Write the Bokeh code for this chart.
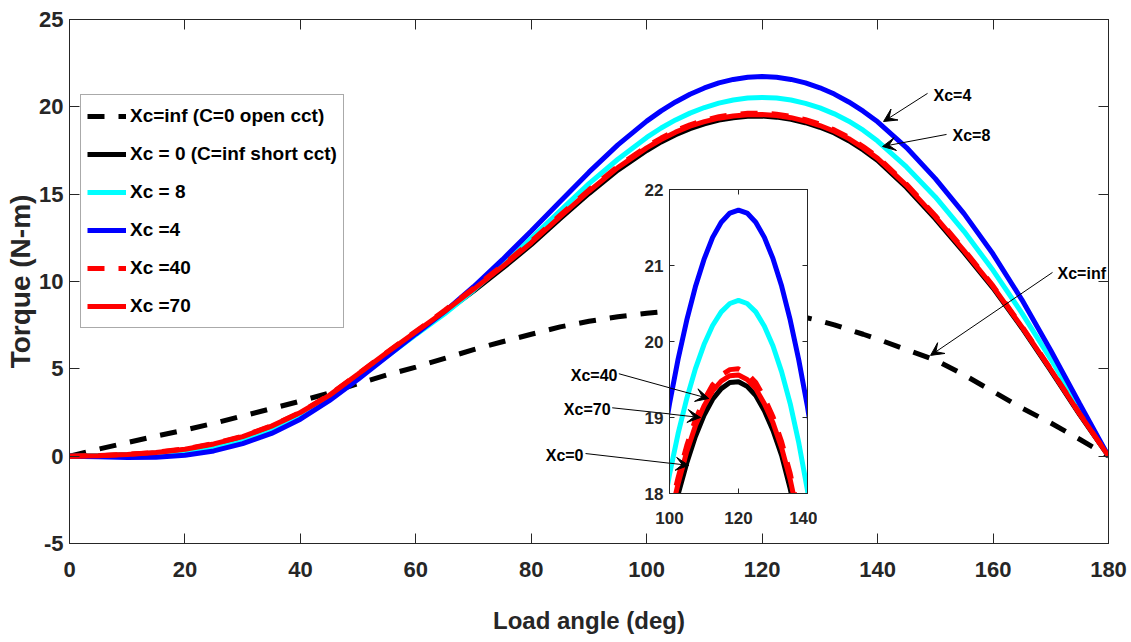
from bokeh.plotting import figure
from bokeh.models import (Range1d, LinearAxis, FixedTicker, Legend, LegendItem,
                          Arrow, VeeHead, Label, ColumnDataSource)
from bokeh.embed import file_html
from bokeh.resources import INLINE

# ---------------- data ----------------
angle = [0, 5, 10, 15, 20, 25, 30, 35, 40, 45, 50, 55, 60, 65, 70, 75, 80, 85, 90, 95,
         100, 102.5, 105, 107.5, 110, 112.5, 115, 117.5, 120, 122.5, 125, 127.5, 130,
         132.5, 135, 137.5, 140, 145, 150, 155, 160, 165, 170, 175, 180]

xc_inf = [0, 0.4, 0.78, 1.15, 1.5, 1.88, 2.3, 2.72, 3.15, 3.62, 4.15, 4.65, 5.1, 5.6, 6.1,
          6.55, 6.98, 7.4, 7.72, 7.98, 8.18, 8.26, 8.33, 8.37, 8.4, 8.4, 8.38, 8.34, 8.28,
          8.2, 8.1, 7.94, 7.75, 7.52, 7.25, 6.98, 6.7, 6.1, 5.5, 4.65, 3.7, 2.75, 1.9, 0.97, 0]

xc_0 = [0, 0.02, 0.08, 0.18, 0.36, 0.65, 1.06, 1.66, 2.44, 3.42, 4.62, 5.86, 7.05, 8.22, 9.46,
        10.75, 12.11, 13.6, 15.04, 16.38, 17.5, 17.99, 18.4, 18.75, 19.03, 19.24, 19.38,
        19.46, 19.47, 19.41, 19.29, 19.09, 18.83, 18.5, 18.06, 17.53, 16.93, 15.38, 13.59,
        11.65, 9.62, 7.34, 4.9, 2.38, 0]

xc_8 = [0, -0.01, 0.0, 0.08, 0.25, 0.54, 0.96, 1.56, 2.36, 3.35, 4.5, 5.72, 6.95, 8.15, 9.5,
        10.94, 12.47, 14.05, 15.6, 17.0, 18.25, 18.79, 19.25, 19.64, 19.96, 20.21, 20.39, 20.5,
        20.54, 20.5, 20.39, 20.2, 19.94, 19.6, 19.18, 18.66, 18.04, 16.56, 14.84, 12.86, 10.64,
        8.19, 5.56, 2.8, 0]

xc_4 = [0, -0.03, -0.07, -0.06, 0.05, 0.3, 0.72, 1.3, 2.12, 3.18, 4.4, 5.7, 7.0, 8.28, 9.7,
        11.25, 12.89, 14.58, 16.26, 17.82, 19.18, 19.77, 20.28, 20.72, 21.08, 21.37, 21.57,
        21.69, 21.73, 21.69, 21.57, 21.37, 21.09, 20.73, 20.28, 19.75, 19.14, 17.67, 15.89,
        13.87, 11.57, 8.95, 6.05, 3.0, 0]

xc_40 = [0, 0.03, 0.1, 0.22, 0.42, 0.72, 1.14, 1.74, 2.52, 3.5, 4.72, 5.95, 7.15, 8.35, 9.61,
         10.92, 12.3, 13.8, 15.25, 16.6, 17.73, 18.21, 18.63, 18.97, 19.23, 19.43, 19.56,
         19.63, 19.64, 19.58, 19.46, 19.26, 19.01, 18.68, 18.26, 17.73, 17.13, 15.57, 13.77,
         11.81, 9.75, 7.44, 4.98, 2.44, 0]

xc_70 = [0, 0.03, 0.1, 0.21, 0.4, 0.7, 1.12, 1.72, 2.5, 3.48, 4.7, 5.93, 7.12, 8.3, 9.55,
         10.85, 12.22, 13.72, 15.17, 16.52, 17.65, 18.13, 18.55, 18.89, 19.15, 19.35, 19.48,
         19.55, 19.56, 19.5, 19.38, 19.18, 18.93, 18.6, 18.18, 17.65, 17.05, 15.5, 13.7,
         11.75, 9.7, 7.4, 4.95, 2.42, 0]

labels = ["Xc=inf (C=0 open cct)", "Xc = 0 (C=inf short cct)", "Xc = 8", "Xc =4",
          "Xc =40", "Xc =70"]
x_ticks = [0, 20, 40, 60, 80, 100, 120, 140, 160, 180]
y_ticks = [-5, 0, 5, 10, 15, 20, 25]
inset_x_ticks = [100, 120, 140]
inset_y_ticks = [18, 19, 20, 21, 22]

# ---------------- styles ----------------
FONT = "Liberation Sans"
TXT = "#262626"
LW = 5
DASH = "17 14"

src = ColumnDataSource(dict(angle=angle, xc_inf=xc_inf, xc_0=xc_0, xc_8=xc_8,
                            xc_4=xc_4, xc_40=xc_40, xc_70=xc_70))
series = [("xc_inf", "black", DASH), ("xc_0", "black", "solid"),
          ("xc_8", "#00FFFF", "solid"), ("xc_4", "#0000FF", "solid"),
          ("xc_40", "#FF0000", DASH), ("xc_70", "#FF0000", "solid")]


def style_axis(ax, size, tick_in, show_labels=True, standoff=7):
    ax.major_tick_in = tick_in
    ax.major_tick_out = 0
    ax.minor_tick_line_color = None
    ax.axis_line_color = TXT
    ax.major_tick_line_color = TXT
    if show_labels:
        ax.major_label_text_font = FONT
        ax.major_label_text_font_style = "bold"
        ax.major_label_text_font_size = size
        ax.major_label_text_color = TXT
        ax.major_label_standoff = standoff
    else:
        ax.major_label_text_color = None
        ax.major_label_text_font_size = "1px"
        ax.major_label_standoff = 0


# ---------------- main figure ----------------
p = figure(width=1131, height=642, x_range=Range1d(0, 180), y_range=Range1d(-5, 25),
           output_backend="svg", toolbar_location=None,
           min_border_left=69, min_border_right=23, min_border_top=19, min_border_bottom=99,
           styles={"position": "absolute", "left": "0px", "top": "0px"})
p.grid.visible = False
p.outline_line_color = TXT
p.background_fill_color = "white"
p.border_fill_color = "white"

p.xaxis.ticker = FixedTicker(ticks=x_ticks)
p.yaxis.ticker = FixedTicker(ticks=y_ticks)
p.yaxis.major_label_overrides = {t: str(t) for t in y_ticks}
style_axis(p.xaxis[0], "22px", 10, standoff=18)
style_axis(p.yaxis[0], "22px", 10, standoff=6)
p.xaxis.axis_label = "Load angle (deg)"
p.xaxis.axis_label_text_font = FONT
p.xaxis.axis_label_text_font_size = "24px"
p.xaxis.axis_label_text_font_style = "bold"
p.xaxis.axis_label_text_color = TXT
p.xaxis.axis_label_standoff = 27
p.yaxis.axis_label = "Torque (N-m)"
p.yaxis.axis_label_text_font = FONT
p.yaxis.axis_label_text_font_size = "28px"
p.yaxis.axis_label_text_font_style = "bold"
p.yaxis.axis_label_text_color = TXT
p.yaxis.axis_label_standoff = 0

ax_r = LinearAxis(ticker=FixedTicker(ticks=y_ticks))
style_axis(ax_r, "1px", 10, show_labels=False)
p.add_layout(ax_r, "right")
ax_t = LinearAxis(ticker=FixedTicker(ticks=x_ticks))
style_axis(ax_t, "1px", 10, show_labels=False)
p.add_layout(ax_t, "above")

renderers = []
for col, color, dash in series:
    r = p.line("angle", col, source=src, line_color=color, line_width=LW, line_dash=dash)
    renderers.append(r)

legend = Legend(items=[LegendItem(label=lab, renderers=[r]) for lab, r in zip(labels, renderers)],
                location=(11, 215), label_text_font=FONT, label_text_font_size="19px",
                label_text_font_style="bold", label_text_color="black",
                glyph_width=39, glyph_height=30, label_height=30, spacing=8, padding=6,
                margin=0, label_standoff=4, border_line_color="#555555", border_line_width=1,
                background_fill_color="white", background_fill_alpha=1.0)
p.add_layout(legend)


def arrow(fig, xs, ys, xe, ye, head=True):
    end = VeeHead(size=13, fill_color="black", line_color="black", line_width=1) if head else None
    fig.add_layout(Arrow(end=end, x_start=xs, y_start=ys, x_end=xe, y_end=ye,
                         line_color="black", line_width=1))


def label(fig, x, y, text, align):
    fig.add_layout(Label(x=x, y=y, text=text, text_align=align, text_baseline="middle",
                         text_font=FONT, text_font_size="16px", text_font_style="bold",
                         text_color="black"))


arrow(p, 148.65, 20.77, 141.03, 19.16)
label(p, 149.68, 20.65, "Xc=4", "left")
arrow(p, 151.94, 18.42, 140.85, 17.73)
label(p, 152.98, 18.36, "Xc=8", "left")
arrow(p, 170.3, 10.52, 149.17, 5.77)
label(p, 171.17, 10.46, "Xc=inf", "left")

# labels + leader lines pointing into the inset (the part inside the inset is drawn there)
arrow(p, 95.17, 4.72, 110.76, 3.29, head=False)
label(p, 94.94, 4.62, "Xc=40", "right")
arrow(p, 94.02, 2.77, 109.32, 2.23, head=False)
label(p, 93.73, 2.67, "Xc=70", "right")
arrow(p, 89.4, 0.15, 107.29, -0.53, head=False)
label(p, 89.05, 0.04, "Xc=0", "right")

# ---------------- inset figure ----------------
ins = figure(width=277, height=366, x_range=Range1d(100, 140), y_range=Range1d(18, 22),
             output_backend="svg", toolbar_location=None,
             min_border_left=129, min_border_right=10, min_border_top=14, min_border_bottom=48,
             border_fill_color=None, background_fill_color="white",
             styles={"position": "absolute", "left": "540px", "top": "175px"})
ins.grid.visible = False
ins.outline_line_color = TXT
ins.xaxis.ticker = FixedTicker(ticks=inset_x_ticks)
ins.yaxis.ticker = FixedTicker(ticks=inset_y_ticks)
style_axis(ins.xaxis[0], "17px", 5, standoff=18)
style_axis(ins.yaxis[0], "17px", 5, standoff=6)
ir = LinearAxis(ticker=FixedTicker(ticks=inset_y_ticks))
style_axis(ir, "1px", 5, show_labels=False)
ins.add_layout(ir, "right")
it = LinearAxis(ticker=FixedTicker(ticks=inset_x_ticks))
style_axis(it, "1px", 5, show_labels=False)
ins.add_layout(it, "above")

for col, color, dash in series:
    ins.line("angle", col, source=src, line_color=color, line_width=LW, line_dash=dash)

arrow(ins, 85.3, 19.57, 111.39, 19.25)
arrow(ins, 83.39, 19.13, 108.99, 19.0)
arrow(ins, 75.65, 18.53, 105.59, 18.37)

open("out.html", "w").write(file_html([p, ins], INLINE, "Torque vs load angle"))
